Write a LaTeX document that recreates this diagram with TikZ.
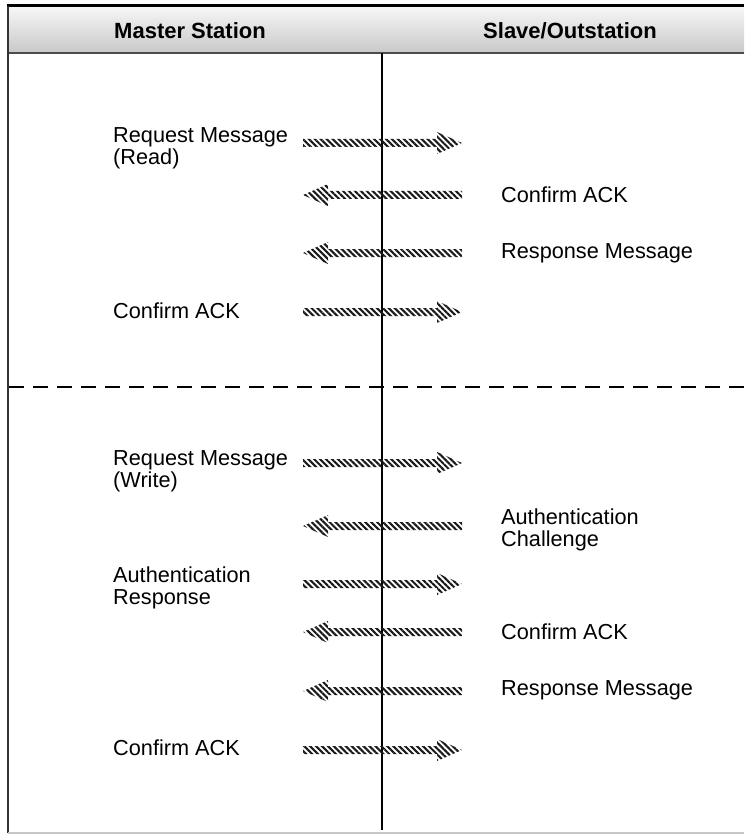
\documentclass[tikz,border=0pt]{standalone}
\usepackage{fontspec}
\setmainfont{Liberation Sans}
\usetikzlibrary{patterns.meta}
\definecolor{hdrtop}{HTML}{F6F6F6}
\definecolor{hdrbot}{HTML}{C8C8C8}
\definecolor{hatchcol}{HTML}{1A1A1A}
\tikzset{
  hatch/.style={pattern={Lines[angle=-45,distance=4.2pt,line width=2.1pt]}, pattern color=hatchcol},
  pics/rarr/.style={code={\fill[hatch] (0,-4) -- (134,-4) -- (134,-11) -- (159,0) -- (134,11) -- (134,4) -- (0,4) -- cycle;}},
  pics/larr/.style={code={\fill[hatch] (0,0) -- (25,-11) -- (25,-4) -- (159,-4) -- (159,4) -- (25,4) -- (25,11) -- cycle;}},
  lbl/.style={inner sep=0pt, anchor=west, align=left, font=\fontsize{21.7}{22}\selectfont},
  hdr/.style={inner sep=0pt, font=\bfseries\fontsize{22}{24}\selectfont},
}
\begin{document}
\begin{tikzpicture}[x=1pt,y=-1pt]
\useasboundingbox (0,0) rectangle (744,834);
% header
\shade[top color=hdrtop, bottom color=hdrbot] (8,7) rectangle (744,53);
\draw[line width=3pt, black] (7,6) -- (744,6);
\draw[line width=1.5pt, black!70] (8,53) -- (744,53);
\draw[line width=2.5pt, black!80] (8,6) -- (8,833);
\draw[line width=2pt, black!22] (8,833) -- (744,833);
\node[hdr] (hms) at (190,31) {Master Station};
\node[hdr] (hso) at (570,31) {Slave/Outstation};
% lifeline and separator
\coordinate (vt) at (382,53);
\coordinate (vb) at (382,830);
\draw[line width=1.4pt] (vt) -- (vb);
\coordinate (dl) at (9,387);
\coordinate (dr) at (744,387);
\draw[line width=1.4pt, dash pattern=on 15pt off 9pt] (dl) -- (dr);
% arrows
\pic at (303,143) {rarr};
\pic at (303,195) {larr};
\pic at (303,253) {larr};
\pic at (303,312) {rarr};
\pic at (303,463) {rarr};
\pic at (303,526) {larr};
\pic at (303,584) {rarr};
\pic at (303,632) {larr};
\pic at (303,691) {larr};
\pic at (303,750) {rarr};
% labels left
\node[lbl] (lreq1) at (113,148) {Request Message\\(Read)};
\node[lbl] (lack1) at (113,311) {Confirm ACK};
\node[lbl] (lreq2) at (113,471) {Request Message\\(Write)};
\node[lbl] (lauth) at (113,588) {Authentication\\Response};
\node[lbl] (lack2) at (113,748) {Confirm ACK};
% labels right
\node[lbl] (rack1) at (501,195) {Confirm ACK};
\node[lbl] (rresp1) at (501,253) {Response Message};
\node[lbl] (rchal) at (501,530) {Authentication\\Challenge};
\node[lbl] (rack2) at (501,632) {Confirm ACK};
\node[lbl] (rresp2) at (501,690) {Response Message};
\end{tikzpicture}
\end{document}
